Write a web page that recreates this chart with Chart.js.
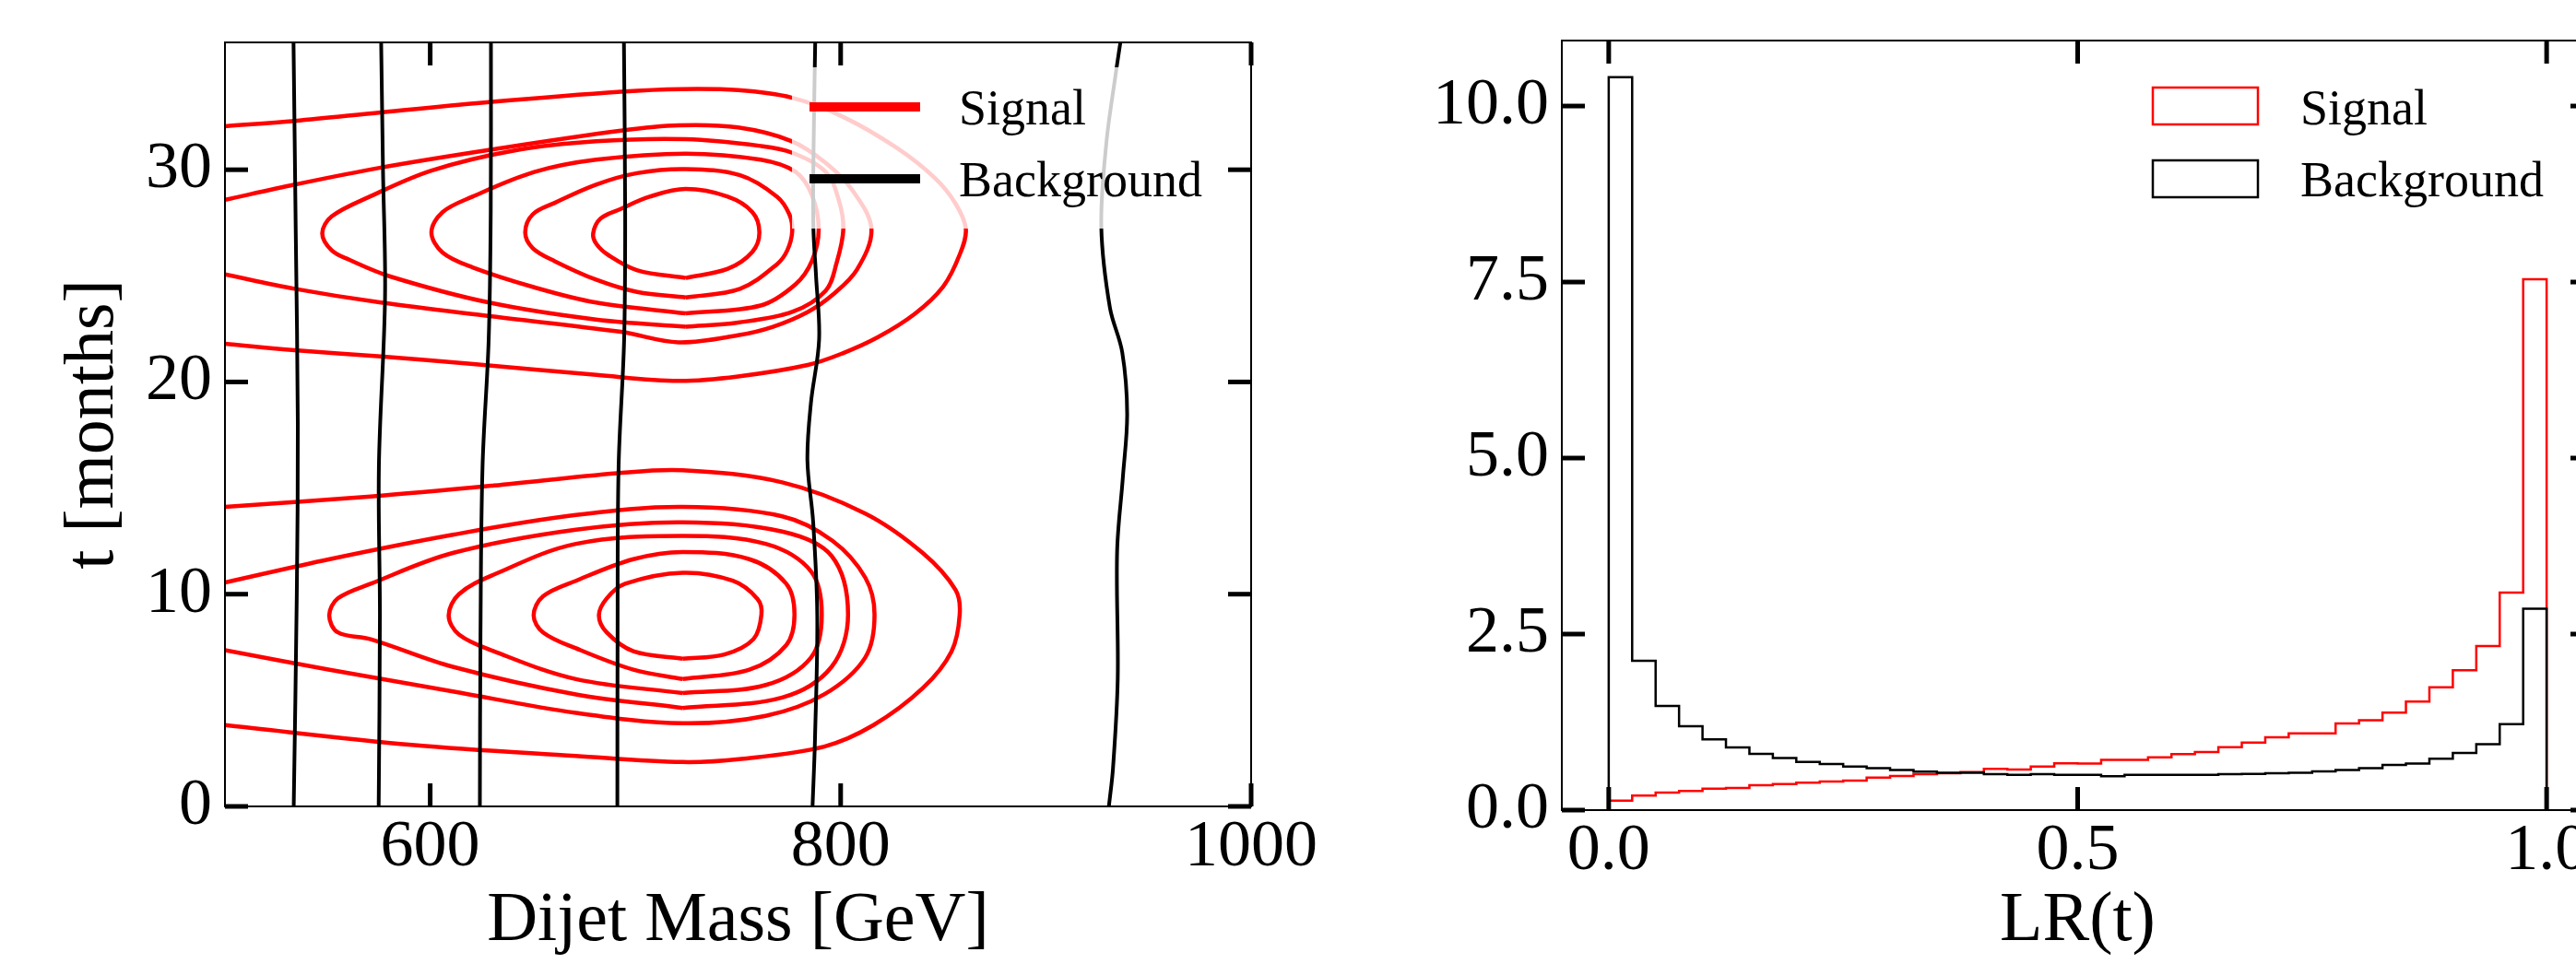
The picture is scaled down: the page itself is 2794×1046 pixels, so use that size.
<!DOCTYPE html>
<html>
<head>
<meta charset="utf-8">
<script src="https://cdn.jsdelivr.net/npm/chart.js@4.4.1/dist/chart.umd.min.js"></script>
<style>
  body { margin: 0; width: 2794px; height: 1046px; overflow: hidden; background: #fff; position: relative; }
  canvas { position: absolute; top: 0; }
  #contourChart { left: 0; }
  #lrChart { left: 1400px; }
</style>
</head>
<body>
<canvas id="contourChart" width="1500" height="1046"></canvas>
<canvas id="lrChart" width="1500" height="1046"></canvas>
<script>
// ---- left panel: contour lines, [mass GeV, t months] ----
const massTicks = [600, 800, 1000];
const monthTicks = [0, 10, 20, 30];

// open signal contours (run from the left edge round to the left edge)
const sigTopOuter = [[500,32.05],[534,32.3],[576,32.7],[630,33.2],[693,33.68],[722,33.8],[750,33.75],[776,33.4],[801,32.5],[827,31.05],[846,29.6],[856,28.4],[861,27.2],[858,26.0],[850,24.5],[836,23.2],[818,22.1],[801,21.35],[784,20.8],[750,20.26],[721,20.05],[681,20.33],[621,20.84],[576,21.2],[534,21.5],[500,21.8]];
const sigTopMid = [[500,28.58],[534,29.3],[576,30.1],[630,30.95],[693,31.84],[721,32.09],[750,31.99],[776,31.35],[793,30.3],[806,29.0],[815,27.2],[808,25.3],[796,24.1],[784,23.3],[767,22.6],[750,22.2],[721,21.87],[693,22.36],[630,23.09],[576,23.74],[534,24.39],[500,25.07]];
const sigBotOuter = [[500,14.11],[571,14.6],[631,15.12],[691,15.7],[723,15.84],[771.5,15.27],[812,13.8],[840,11.94],[856,10.2],[858,9.04],[854,7.3],[840,5.57],[816,3.83],[792,2.82],[751.5,2.24],[723,2.09],[671,2.38],[591,2.9],[500,3.83]];
const sigBotMid = [[500,10.55],[551,11.65],[611,12.8],[671,13.73],[723,14.11],[771.5,13.67],[796,12.52],[812,10.78],[816.5,9.04],[812,7.02],[792,5.28],[763.5,4.27],[723,3.92],[671,4.41],[611,5.42],[551,6.44],[500,7.36]];

// closed signal contours (listed from the left tip, clockwise)
const sigTopL4 = [[547.4,27.0],[552,27.8],[570.5,28.73],[600.6,29.96],[640.6,30.9],[680.8,31.34],[724.5,31.44],[761,31.12],[776.4,30.8],[792.7,29.9],[799,28.6],[801.3,27.2],[798,25.6],[792.7,24.3],[776.4,23.3],[750,22.8],[724.5,22.6],[680.8,22.94],[628.7,23.74],[580.5,24.97],[560.5,25.76],[552,26.2]];
const sigTopL3 = [[600.6,27.04],[606,28.0],[620.6,28.73],[650.7,29.89],[680.8,30.47],[724.5,30.76],[761,30.47],[778,29.9],[786,28.8],[789.3,27.2],[786,25.7],[778,24.6],[761,23.6],[724.5,23.23],[680.8,23.74],[650.7,24.46],[620.6,25.4],[606,26.1]];
const sigTopL2 = [[646.3,27.04],[650,27.9],[660.7,28.44],[680.8,29.3],[700.8,29.84],[724.5,30.03],[751,29.74],[769,28.73],[775,27.9],[776.4,27.1],[774,26.2],[769,25.55],[751,24.39],[724.5,23.98],[700.8,24.24],[680.8,24.82],[660.7,25.69],[650,26.3]];
const sigTopL1 = [[679.4,27.0],[683,27.7],[692.8,28.15],[706.9,28.73],[724.5,29.09],[745,28.73],[757,28.0],[760.4,27.04],[757,26.13],[745,25.33],[724.5,24.9],[701,25.26],[686.8,25.98],[681,26.5]];
const sigBotL4 = [[550.8,9.0],[555,9.8],[571,10.49],[611,11.94],[671,13.04],[723,13.39],[771.5,12.95],[795.6,11.8],[803.6,9.04],[795.6,6.58],[771.5,5.13],[723,4.64],[671,5.28],[611,6.58],[571,7.88],[555,8.2]];
const sigBotL3 = [[609,9.0],[614,10.0],[631,10.92],[671,12.37],[723,12.75],[763.5,12.37],[785.6,11.07],[790.8,9.04],[785.6,7.02],[763.5,5.72],[723,5.34],[671,6.0],[631,7.31],[614,8.1]];
const sigBotL2 = [[650.4,9.0],[655,9.9],[671,10.63],[699,11.65],[723,11.99],[755.5,11.65],[773.5,10.49],[777.5,9.04],[773.5,7.6],[755.5,6.44],[723,6.0],[699,6.44],[671,7.45],[655,8.2]];
const sigBotL1 = [[682.2,9.0],[686,9.8],[695,10.49],[723,11.01],[747.5,10.63],[759.5,9.77],[761.4,9.04],[757.5,7.88],[743.4,7.16],[723,6.96],[699,7.31],[686,8.2]];

// background contours, bottom to top
const bkgA = [[533.5,0],[535,10],[535.5,18],[534.5,27],[533.4,36]];
const bkgB = [[574.9,0],[575.5,9],[575,16],[578,24],[577,30],[576.1,36]];
const bkgC = [[624.2,0],[624.5,8],[625.5,16],[628.5,22],[629.5,28],[629.6,36]];
const bkgD = [[691.2,0],[691.3,8],[691.8,16],[694.5,22],[695,28],[694.4,36]];
const bkgE = [[786.3,0],[787.5,3.2],[788.6,9],[786.6,13.4],[783.8,16.3],[785.5,19],[789.5,22],[788,25],[786.7,27.3],[786.8,31],[787.6,36]];
const bkgF = [[930.7,0],[932.7,1.8],[935,6],[934.7,12],[937.5,15.5],[939.6,18.5],[937.2,21.4],[931.2,23.5],[927,27.3],[929.4,31.2],[934,34.5],[936.3,36]];

// ---- right panel: LR(t) histograms, 40 bins on [0, 1] ----
const lrTicks = [0, 0.5, 1];
const densTicks = [0, 2.5, 5, 7.5, 10];
const sigHist = [0.135,0.205,0.25,0.27,0.305,0.315,0.355,0.37,0.39,0.405,0.42,0.46,0.485,0.51,0.525,0.54,0.585,0.575,0.62,0.665,
                 0.66,0.715,0.715,0.75,0.795,0.825,0.895,0.96,1.035,1.09,1.09,1.23,1.275,1.385,1.54,1.745,1.985,2.33,3.09,7.54];
const bkgHist = [10.41,2.12,1.48,1.19,1.005,0.89,0.80,0.74,0.685,0.655,0.62,0.595,0.57,0.545,0.53,0.53,0.51,0.50,0.51,0.50,
                 0.50,0.48,0.50,0.50,0.50,0.50,0.51,0.515,0.525,0.53,0.55,0.57,0.595,0.64,0.66,0.73,0.81,0.935,1.22,2.86];
const binEdges = sigHist.map((_, i) => i / sigHist.length).concat([1]);

const SERIF = 'Liberation Serif';
const tickFont = { family: SERIF, size: 72 };
const titleFont = { family: SERIF, size: 76 };
const legendFont = '54px "Liberation Serif"';

function contour(pts, color, width) {
  return {
    data: pts.map(p => ({ x: p[0], y: p[1] })),
    showLine: true, borderColor: color, borderWidth: width,
    pointRadius: 0, tension: 0.35, fill: false
  };
}

// close a loop, starting at its lowest point so the seam sits on a flat stretch
function ring(pts) {
  let k = 0;
  pts.forEach((p, i) => { if (p[1] < pts[k][1]) k = i; });
  const r = pts.slice(k).concat(pts.slice(0, k));
  r.push(r[0]);
  return r;
}

function stepPoints(vals) {
  const pts = [{ x: binEdges[0], y: 0 }];
  vals.forEach((v, i) => pts.push({ x: binEdges[i], y: v }));
  pts.push({ x: binEdges[vals.length], y: vals[vals.length - 1] });
  pts.push({ x: binEdges[vals.length], y: 0 });
  return pts;
}

function line(ctx, x1, y1, x2, y2) {
  ctx.beginPath(); ctx.moveTo(x1, y1); ctx.lineTo(x2, y2); ctx.stroke();
}

// frame + inward ticks on all four sides, like the matplotlib style
const frameTicks = {
  id: 'frameTicks',
  afterDraw(chart) {
    const { ctx, chartArea: a, scales: { x, y } } = chart;
    const len = 25;
    ctx.save();
    ctx.strokeStyle = '#000';
    ctx.lineWidth = 2;
    ctx.strokeRect(a.left, a.top, a.right - a.left, a.bottom - a.top);
    ctx.lineWidth = 5;
    x.ticks.forEach(t => {
      const px = x.getPixelForValue(t.value);
      line(ctx, px, a.bottom, px, a.bottom - len);
      line(ctx, px, a.top, px, a.top + len);
    });
    y.ticks.forEach(t => {
      const py = y.getPixelForValue(t.value);
      line(ctx, a.left, py, a.left + len, py);
      line(ctx, a.right, py, a.right - len, py);
    });
    ctx.restore();
  }
};

function legendText(ctx, text, x, y) {
  ctx.font = legendFont;
  ctx.fillStyle = '#000';
  ctx.textAlign = 'left';
  ctx.textBaseline = 'alphabetic';
  ctx.fillText(text, x, y);
}

const contourLegend = {
  id: 'contourLegend',
  afterDatasetsDraw(chart) {
    const ctx = chart.ctx;
    ctx.save();
    ctx.fillStyle = 'rgba(255,255,255,0.8)';
    ctx.fillRect(859, 73, 466, 175);
    ctx.lineWidth = 10;
    ctx.strokeStyle = '#ff0000';
    line(ctx, 878, 116, 998, 116);
    ctx.strokeStyle = '#000';
    line(ctx, 878, 194, 998, 194);
    legendText(ctx, 'Signal', 1040, 135);
    legendText(ctx, 'Background', 1040, 213);
    ctx.restore();
  }
};

const histLegend = {
  id: 'histLegend',
  afterDatasetsDraw(chart) {
    const ctx = chart.ctx;
    ctx.save();
    ctx.lineWidth = 2.5;
    ctx.strokeStyle = '#ff0000';
    ctx.strokeRect(935, 95, 114, 40);
    ctx.strokeStyle = '#000';
    ctx.strokeRect(935, 174, 114, 40);
    legendText(ctx, 'Signal', 1095, 135);
    legendText(ctx, 'Background', 1095, 213);
    ctx.restore();
  }
};

function axis(opts) {
  return {
    type: 'linear',
    min: opts.min, max: opts.max,
    grid: { display: false, drawTicks: false },
    border: { display: false },
    afterBuildTicks: s => { s.ticks = opts.ticks.map(v => ({ value: v })); },
    afterFit: s => {
      if (opts.width !== undefined) s.width = opts.width;
      if (opts.height !== undefined) s.height = opts.height;
      s.paddingLeft = 0; s.paddingRight = 0; s.paddingTop = 0; s.paddingBottom = 0;
    },
    ticks: {
      autoSkip: false, maxRotation: 0, color: '#000', font: tickFont,
      padding: opts.pad,
      callback: opts.fmt || (v => String(v))
    },
    title: {
      display: !!opts.title, text: opts.title || '', color: '#000', font: titleFont,
      padding: opts.titlePad || { top: 0, bottom: 0 }
    }
  };
}

const common = {
  responsive: false,
  animation: false,
  events: [],
  plugins: { legend: { display: false }, tooltip: { enabled: false } }
};

const openSig = [sigTopOuter, sigTopMid, sigBotOuter, sigBotMid];
const closedSig = [sigTopL4, sigTopL3, sigTopL2, sigTopL1, sigBotL4, sigBotL3, sigBotL2, sigBotL1];

new Chart(document.getElementById('contourChart'), {
  type: 'scatter',
  data: {
    datasets: [
      ...[bkgA, bkgB, bkgC, bkgD, bkgE, bkgF].map(c => contour(c, '#000', 4)),
      ...openSig.map(c => contour(c, '#ff0000', 4.5)),
      ...closedSig.map(c => contour(ring(c), '#ff0000', 4.5))
    ]
  },
  options: {
    ...common,
    layout: { padding: { top: 46, right: 143, bottom: 0, left: 0 } },
    scales: {
      x: axis({ min: 500, max: 1000, ticks: massTicks, height: 171, pad: 2, title: 'Dijet Mass [GeV]' }),
      y: axis({ min: 0, max: 36, ticks: monthTicks, width: 244, pad: 14, title: 't [months]', titlePad: { top: 56, bottom: 0 } })
    }
  },
  plugins: [contourLegend, frameTicks]
});

new Chart(document.getElementById('lrChart'), {
  type: 'scatter',
  data: {
    datasets: [
      { data: stepPoints(bkgHist), showLine: true, stepped: 'before', borderColor: '#000', borderWidth: 2.5, pointRadius: 0, fill: false },
      { data: stepPoints(sigHist), showLine: true, stepped: 'before', borderColor: '#ff0000', borderWidth: 2.5, pointRadius: 0, fill: false }
    ]
  },
  options: {
    ...common,
    layout: { padding: { top: 44, right: 87, bottom: 0, left: 0 } },
    scales: {
      x: axis({ min: -0.05, max: 1.05, ticks: lrTicks, height: 167, pad: 2, fmt: v => v.toFixed(1), title: 'LR(t)' }),
      y: axis({ min: 0, max: 10.93, ticks: densTicks, width: 294, pad: 14, fmt: v => v.toFixed(1) })
    }
  },
  plugins: [histLegend, frameTicks]
});
</script>
</body>
</html>
